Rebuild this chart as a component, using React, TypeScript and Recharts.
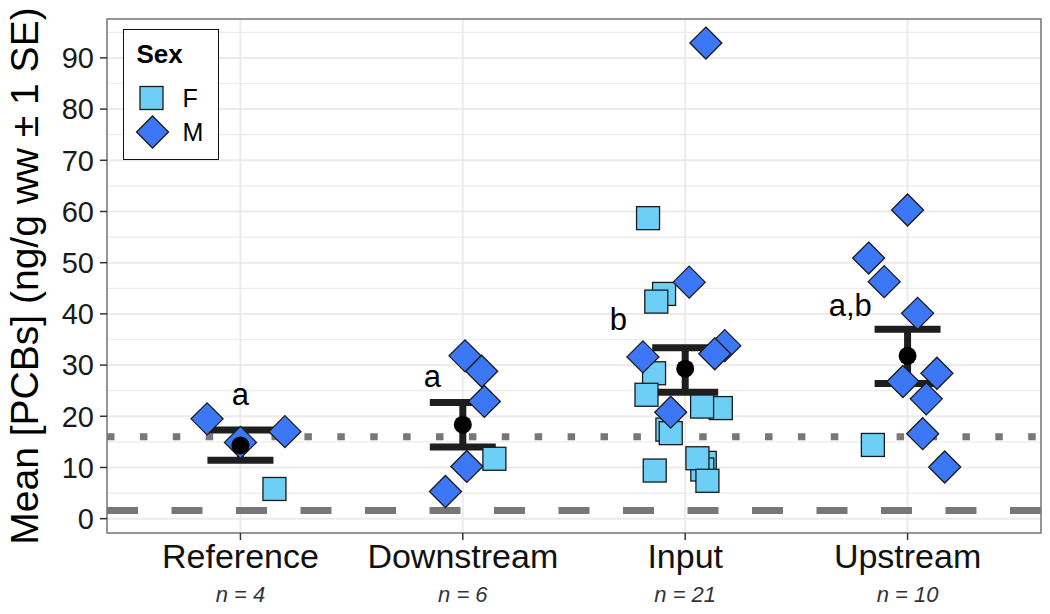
import {
  CartesianGrid,
  ErrorBar,
  ReferenceArea,
  ReferenceLine,
  Scatter,
  ScatterChart,
  XAxis,
  YAxis,
} from "recharts";

const FONT = '"Liberation Sans", Arial, Helvetica, sans-serif';
const F_FILL = "#6dcff6";
const M_FILL = "#3c78f5";
const EDGE = "#1a1a1a";

// sites along the x axis
const groups = ["Reference", "Downstream", "Input", "Upstream"];
const counts = [4, 6, 21, 10];

// site mean ± 1 SE
const meanValues = [14.3, 18.35, 29.3, 31.8];
const seUpper = [17.3, 22.7, 33.4, 37.0];
const seLower = [11.4, 14.0, 24.7, 26.4];

// compact letter display above each site
const letters = ["a", "a", "b", "a,b"];
const letterX = [1.0, 1.863, 2.7, 3.742];
const letterY = [22.3, 25.8, 36.9, 39.5];

// individual fish: [site, jitter, PCBs]
const femalePts: [number, number, number][] = [
  [1, 0.153, 5.8],
  [2, 0.142, 11.7],
  [3, -0.167, 58.7],
  [3, -0.095, 43.9],
  [3, -0.13, 42.4],
  [3, -0.14, 28.4],
  [3, -0.174, 24.2],
  [3, 0.16, 21.6],
  [3, 0.076, 21.9],
  [3, -0.08, 17.4],
  [3, -0.065, 16.7],
  [3, -0.137, 9.4],
  [3, 0.088, 10.9],
  [3, 0.077, 9.6],
  [3, 0.055, 11.8],
  [3, 0.1, 7.4],
  [4, -0.156, 14.4],
];

const malePts: [number, number, number][] = [
  [1, -0.15, 19.5],
  [1, 0.2, 17.0],
  [1, 0.0, 14.9],
  [2, 0.01, 31.8],
  [2, 0.085, 28.8],
  [2, 0.097, 22.9],
  [2, 0.018, 10.2],
  [2, -0.078, 5.3],
  [3, 0.093, 92.9],
  [3, 0.018, 46.2],
  [3, -0.19, 31.6],
  [3, 0.178, 33.8],
  [3, 0.133, 32.2],
  [3, -0.065, 20.8],
  [4, 0.0, 60.3],
  [4, -0.175, 50.9],
  [4, -0.105, 46.3],
  [4, 0.045, 40.1],
  [4, -0.021, 26.8],
  [4, 0.132, 28.4],
  [4, 0.084, 23.4],
  [4, 0.068, 16.6],
  [4, 0.167, 10.1],
];

// reference levels drawn across the panel
const dottedLevel = 16.0;
const dashedLevel = 1.6;

const yTicks = [0, 10, 20, 30, 40, 50, 60, 70, 80, 90];
const yMinor = [5, 15, 25, 35, 45, 55, 65, 75, 85, 95];
const Y_DOMAIN: [number, number] = [-2.8, 97.6];
const X_DOMAIN: [number, number] = [0.4, 4.6];

const toPoints = (pts: [number, number, number][]) =>
  pts.map(([g, j, v]) => ({ x: g + j, y: v }));

const meanData = meanValues.map((m, i) => ({
  x: i + 1,
  y: m,
  err: [m - seLower[i], seUpper[i] - m],
}));

const letterData = letters.map((l, i) => ({ x: letterX[i], y: letterY[i], label: l }));

const Square = ({ cx, cy }: any) => (
  <rect x={cx - 11.5} y={cy - 11.5} width={23} height={23} fill={F_FILL} stroke={EDGE} strokeWidth={1.3} />
);

const Diamond = ({ cx, cy }: any) => (
  <polygon
    points={`${cx},${cy - 16} ${cx + 16},${cy} ${cx},${cy + 16} ${cx - 16},${cy}`}
    fill={M_FILL}
    stroke={EDGE}
    strokeWidth={1.3}
  />
);

const MeanDot = ({ cx, cy }: any) => <circle cx={cx} cy={cy} r={9} fill="#000" />;

const Letter = ({ cx, cy, payload }: any) => (
  <text x={cx} y={cy} textAnchor="middle" fontSize={31} fill="#000">
    {payload.label}
  </text>
);

const SiteTick = ({ x, y, payload }: any) => {
  const i = Math.round(payload.value) - 1;
  return (
    <g>
      <text x={x} y={y + 28} textAnchor="middle" fontSize={34} fill="#111">
        {groups[i]}
      </text>
      <text x={x} y={y + 62} textAnchor="middle" fontSize={22} fontStyle="italic" fill="#333">
        {`n = ${counts[i]}`}
      </text>
    </g>
  );
};

export default function App() {
  return (
    <div style={{ position: "absolute", left: 0, top: 0, width: 1050, height: 614, background: "#fff", fontFamily: FONT }}>
      <ScatterChart width={1050} height={614} margin={{ top: 19, right: 9, bottom: 0, left: 0 }}>
        <CartesianGrid horizontalValues={yMinor} vertical={false} stroke="#ebebeb" strokeWidth={1.2} />
        <CartesianGrid stroke="#ebebeb" strokeWidth={2} />
        <XAxis
          type="number"
          dataKey="x"
          domain={X_DOMAIN}
          ticks={[1, 2, 3, 4]}
          allowDataOverflow
          height={81}
          axisLine={false}
          tickLine={{ stroke: "#333", strokeWidth: 1.5 }}
          tickSize={7}
          tickMargin={0}
          tick={<SiteTick />}
          interval={0}
        />
        <YAxis
          type="number"
          dataKey="y"
          domain={Y_DOMAIN}
          ticks={yTicks}
          allowDataOverflow
          width={107}
          axisLine={false}
          tickLine={{ stroke: "#333", strokeWidth: 1.5 }}
          tickSize={7}
          tickMargin={6}
          tick={{ fontSize: 29, fill: "#1a1a1a" }}
          interval={0}
        />
        <Scatter data={toPoints(femalePts)} shape={<Square />} isAnimationActive={false} />
        <Scatter data={toPoints(malePts)} shape={<Diamond />} isAnimationActive={false} />
        <ReferenceLine y={dottedLevel} stroke="#777" strokeWidth={7} strokeDasharray="7.5 25.4" />
        <ReferenceLine y={dashedLevel} stroke="#777" strokeWidth={7} strokeDasharray="31 33.5" />
        <Scatter data={meanData} shape={<MeanDot />} isAnimationActive={false}>
          <ErrorBar dataKey="err" direction="y" width={33} strokeWidth={7} stroke="#1e1e1e" isAnimationActive={false} />
        </Scatter>
        <Scatter data={letterData} shape={<Letter />} isAnimationActive={false} />
        <ReferenceArea
          x1={X_DOMAIN[0]}
          x2={X_DOMAIN[1]}
          y1={Y_DOMAIN[0]}
          y2={Y_DOMAIN[1]}
          fill="none"
          stroke="#7a7a7a"
          strokeWidth={1.5}
          ifOverflow="visible"
        />
      </ScatterChart>

      <svg width={60} height={614} style={{ position: "absolute", left: 0, top: 0, pointerEvents: "none" }}>
        <text transform="translate(38,276) rotate(-90)" textAnchor="middle" fontSize={39} fill="#000">
          Mean [PCBs] (ng/g ww ± 1 SE)
        </text>
      </svg>

      <div
        style={{
          position: "absolute",
          left: 123,
          top: 29,
          width: 96,
          height: 131,
          boxSizing: "border-box",
          border: "1.5px solid #111",
          background: "#fff",
        }}
      >
        <svg width={94} height={129} style={{ position: "absolute", left: 0, top: 0 }}>
          <text x={12.5} y={33} fontSize={26} fontWeight="bold" fill="#000">
            Sex
          </text>
          <rect x={16} y={56.5} width={23} height={23} fill={F_FILL} stroke={EDGE} strokeWidth={1.3} />
          <text x={58.5} y={77} fontSize={25} fill="#000">
            F
          </text>
          <polygon points="28.5,86 44.5,102 28.5,118 12.5,102" fill={M_FILL} stroke={EDGE} strokeWidth={1.3} />
          <text x={58.5} y={111} fontSize={25} fill="#000">
            M
          </text>
        </svg>
      </div>
    </div>
  );
}
